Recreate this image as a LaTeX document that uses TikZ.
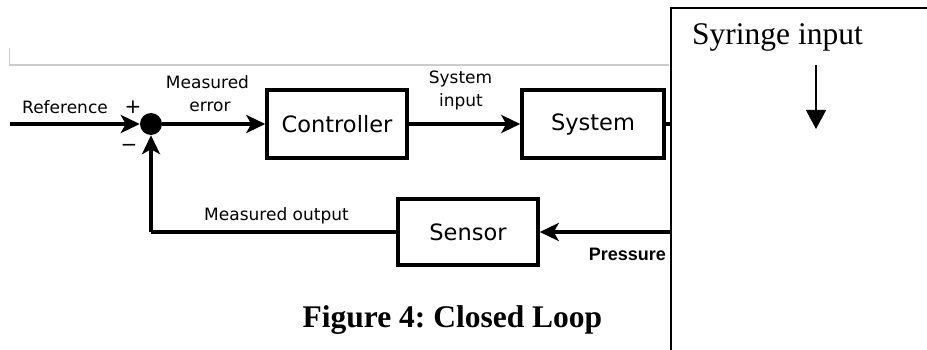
\documentclass[tikz,border=0pt]{standalone}
\usepackage{fontspec}
\setmainfont{Liberation Serif}
\newfontfamily\dejavu{DejaVu Sans}
\newfontfamily\arialf{Liberation Sans}
\usetikzlibrary{arrows.meta}
\frenchspacing
\tikzset{
  lbl/.style={font=\dejavu\fontsize{17}{20}\selectfont, inner sep=0pt},
  blockbox/.style={draw, line width=3.5pt, font=\dejavu\fontsize{22.5}{26}\selectfont,
    minimum width=140pt, minimum height=68pt, inner sep=0pt},
  flow/.style={line width=3.5pt, -{Stealth[length=19pt,width=18pt,inset=5pt]}},
  plainflow/.style={line width=3.5pt},
}
\begin{document}
\begin{tikzpicture}[x=1pt,y=-1pt]
\useasboundingbox (0,0) rectangle (927,350);
% light gray frame corner
\draw[line width=1.5pt, color=black!20] (9.5,48) -- (9.5,65) -- (669,65);
% right frame
\draw[line width=2.2pt] (671,350) -- (671,8) -- (927,8);
% blocks
\node[blockbox] (ctrl) at (337,124) {Controller};
\node[blockbox, minimum width=142pt] (sys) at (593,124) {System};
\node[blockbox, minimum width=140pt, minimum height=66pt] (sens) at (468,232) {Sensor};
\node[circle, fill, inner sep=0pt, minimum size=22pt] (sum) at (151,124) {};
% coordinates
\coordinate (refin) at (10,124);
\coordinate (sysout) at (670,124);
\coordinate (press) at (670,232);
\coordinate (corner) at (151,232);
% connectors
\draw[flow] (refin) -- (sum);
\draw[flow] (sum) -- (ctrl);
\draw[flow] (ctrl) -- (sys);
\draw[plainflow] (sys) -- (sysout);
\draw[line width=4.5pt, -{Stealth[length=19pt,width=18pt,inset=5pt]}] (press) -- (sens);
\draw[plainflow] (sens.west) -- (corner);
\draw[flow] (corner) -- (sum);
% labels
\node[lbl, anchor=base west] (lref) at (22,114) {Reference};
\node[lbl, font=\dejavu\fontsize{20}{22}\selectfont] (lplus) at (133,107) {+};
\node[lbl, font=\dejavu\fontsize{20}{22}\selectfont] (lminus) at (129,148) {−};
\node[lbl, anchor=base] (lmeas) at (207.5,89) {Measured};
\node[lbl, anchor=base] (lerr) at (210,112) {error};
\node[lbl, anchor=base] (lsys) at (460.5,84) {System};
\node[lbl, anchor=base] (linp) at (461,107) {input};
\node[lbl, anchor=base] (lmout) at (276.5,220) {Measured output};
\node[inner sep=0pt, anchor=base east, font=\arialf\bfseries\fontsize{18}{21}\selectfont] (lpress) at (666,260) {Pressure};
\node[inner sep=0pt, anchor=base west, font=\fontsize{31.5}{36}\selectfont] (lsyr) at (692,45) {Syringe input};
\node[inner sep=0pt, anchor=base, font=\bfseries\fontsize{31.5}{36}\selectfont] (lcap) at (452.5,327) {Figure 4: Closed Loop};
% syringe arrow
\coordinate (syrA) at (816,65);
\coordinate (syrB) at (816,129);
\draw[line width=1.5pt, -{Triangle[length=19pt,width=20pt]}] (syrA) -- (syrB);
\end{tikzpicture}
\end{document}
